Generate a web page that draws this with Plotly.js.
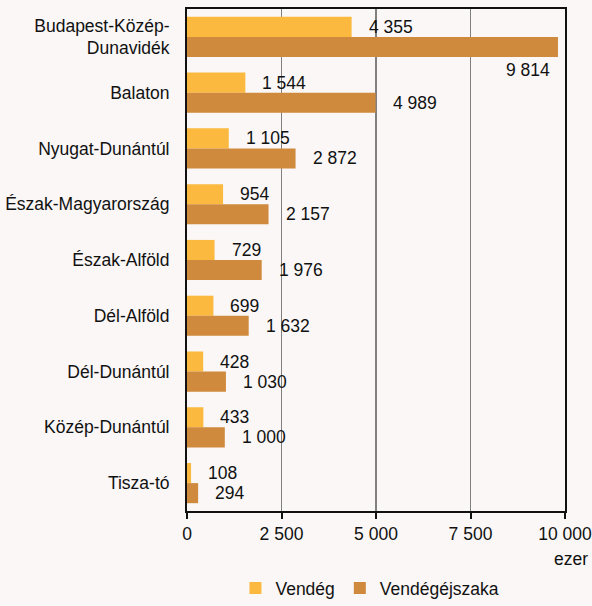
<!DOCTYPE html>
<html>
<head>
<meta charset="utf-8">
<script src="https://cdn.plot.ly/plotly-3.0.1.min.js"></script>
<style>html,body{margin:0;padding:0;background:#FAF7F6;}</style>
</head>
<body>
<div id="chart" style="width:592px;height:606px;"></div>
<script>
const categories = ["Budapest-Közép-<br>Dunavidék", "Balaton", "Nyugat-Dunántúl", "Észak-Magyarország", "Észak-Alföld", "Dél-Alföld", "Dél-Dunántúl", "Közép-Dunántúl", "Tisza-tó"];
const vendeg = [4355, 1544, 1105, 954, 729, 699, 428, 433, 108];
const vendegejszaka = [9814, 4989, 2872, 2157, 1976, 1632, 1030, 1000, 294];
const seriesNames = ["Vendég", "Vendégéjszaka"];
const tickVals = [0, 2500, 5000, 7500, 10000];
const tickText = ["0", "2 500", "5 000", "7 500", "10 000"];

const FONT = "'Liberation Sans', Arial, sans-serif";
const FS = 17.5;
const colors = ["#FBBA3F", "#CF8A3D"];

function fmt(v) {
  return String(v).replace(/\B(?=(\d{3})+(?!\d))/g, " ");
}

const traces = [
  {type: "bar", orientation: "h", name: seriesNames[0], y: categories, x: vendeg, marker: {color: colors[0]}, hoverinfo: "x+y"},
  {type: "bar", orientation: "h", name: seriesNames[1], y: categories, x: vendegejszaka, marker: {color: colors[1]}, hoverinfo: "x+y"}
];

const annotations = [];
[vendeg, vendegejszaka].forEach((arr, si) => {
  arr.forEach((v, i) => {
    const big = v > 9000;
    annotations.push({
      x: v, y: categories[i], xref: "x", yref: "y",
      text: fmt(v), showarrow: false,
      xanchor: big ? "right" : "left",
      xshift: big ? -6 : 15,
      yshift: big ? -33 : (si === 0 ? 10 : -10),
      font: {family: FONT, size: FS, color: "#111"}
    });
  });
});
annotations.push({
  x: 1, y: 0, xref: "paper", yref: "paper", xanchor: "right", yanchor: "top",
  xshift: 25, yshift: -36, text: "ezer", showarrow: false,
  font: {family: FONT, size: FS, color: "#111"}
});

const layout = {
  width: 592, height: 606,
  paper_bgcolor: "#FAF7F6", plot_bgcolor: "#FAF7F6",
  margin: {l: 187, r: 27, t: 9, b: 95, autoexpand: false},
  barmode: "group", bargap: 0.28, bargroupgap: 0,
  font: {family: FONT, size: FS, color: "#111"},
  xaxis: {
    range: [0, 10000], tickvals: tickVals, ticktext: tickText,
    showgrid: true, gridcolor: "#808080", gridwidth: 1.5,
    showline: true, linecolor: "#111", linewidth: 2, mirror: true,
    ticks: "outside", ticklen: 6, tickwidth: 2, tickcolor: "#111",
    zeroline: false, fixedrange: true, automargin: false,
    ticklabeloverflow: "allow",
    tickfont: {family: FONT, size: FS, color: "#111"}
  },
  yaxis: {
    range: [categories.length - 0.5, -0.5], autorange: false,
    showgrid: false, zeroline: false,
    showline: true, linecolor: "#111", linewidth: 2, mirror: true,
    ticks: "", ticklabelstandoff: 12, automargin: false,
    tickfont: {family: FONT, size: FS, color: "#111"}
  },
  legend: {
    orientation: "h", x: 0.484, xanchor: "center", y: -0.02, yanchor: "bottom",
    yref: "container", font: {family: FONT, size: FS, color: "#111"},
    bgcolor: "rgba(0,0,0,0)", traceorder: "normal", itemwidth: 30
  },
  annotations: annotations,
  showlegend: true
};

Plotly.newPlot("chart", traces, layout, {displayModeBar: false, staticPlot: true});
</script>
</body>
</html>
